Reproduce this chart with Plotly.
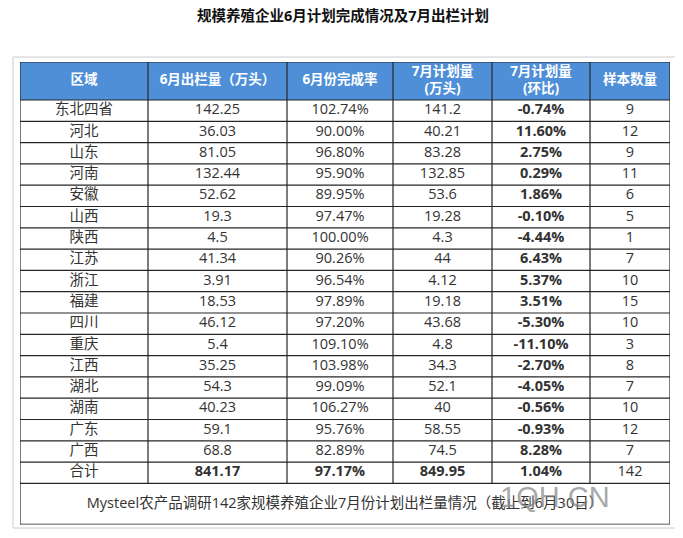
import plotly.graph_objects as go
from itertools import accumulate

TITLE = "规模养殖企业6月计划完成情况及7月出栏计划"
NOTE = "Mysteel农产品调研142家规模养殖企业7月份计划出栏量情况（截止到6月30日）"

headers = ["区域", "6月出栏量（万头）", "6月份完成率", "7月计划量<br>(万头)", "7月计划量<br>(环比)", "样本数量"]
regions = ["东北四省", "河北", "山东", "河南", "安徽", "山西", "陕西", "江苏", "浙江",
           "福建", "四川", "重庆", "江西", "湖北", "湖南", "广东", "广西", "合计"]
june_out = [142.25, 36.03, 81.05, 132.44, 52.62, 19.3, 4.5, 41.34, 3.91,
            18.53, 46.12, 5.4, 35.25, 54.3, 40.23, 59.1, 68.8, 841.17]
june_rate = [102.74, 90.00, 96.80, 95.90, 89.95, 97.47, 100.00, 90.26, 96.54,
             97.89, 97.20, 109.10, 103.98, 99.09, 106.27, 95.76, 82.89, 97.17]
july_plan = [141.2, 40.21, 83.28, 132.85, 53.6, 19.28, 4.3, 44, 4.12,
             19.18, 43.68, 4.8, 34.3, 52.1, 40, 58.55, 74.5, 849.95]
july_mom = [-0.74, 11.60, 2.75, 0.29, 1.86, -0.10, -4.44, 6.43, 5.37,
            3.51, -5.30, -11.10, -2.70, -4.05, -0.56, -0.93, 8.28, 1.04]
samples = [9, 12, 9, 11, 6, 5, 1, 7, 10, 15, 10, 3, 8, 7, 10, 12, 7, 142]

# page body has an 8px margin, so the figure is shrunk and shifted by that much
OFF = 8
W, H = 683 - OFF, 538 - OFF
def fx(px): return (px - OFF) / W
def fy(px): return 1 - (px - OFF) / H

FONT = "Open Sans, Noto Sans CJK SC, sans-serif"
LINE = "#262626"
TXT = "#333333"

col_w = [128, 139, 106, 99, 98, 80]
header_h, row_h, note_h = 38, 21.3, 41

n = len(regions)
last = n - 1
x_edges = [0] + list(accumulate(col_w))
y_edges = [0, header_h] + [header_h + row_h * (i + 1) for i in range(n)] + [header_h + row_h * n + note_h]
x_mid = [(a + b) / 2 for a, b in zip(x_edges[:-1], x_edges[1:])]
y_mid = [(a + b) / 2 for a, b in zip(y_edges[1:-2], y_edges[2:-1])]
total_w, total_h = x_edges[-1], y_edges[-1]

def bold_total(vals):
    return [f"<b>{v}</b>" if i == last else v for i, v in enumerate(vals)]

columns = [
    regions,
    bold_total([f"{v:g}" for v in june_out]),
    bold_total([f"{v:.2f}%" for v in june_rate]),
    bold_total([f"{v:g}" for v in july_plan]),
    [f"<b>{v:.2f}%</b>" for v in july_mom],
    [str(v) for v in samples],
]

fig = go.Figure()

# header fill
fig.add_trace(go.Heatmap(
    x=x_edges, y=[0, header_h], z=[[1] * len(col_w)],
    colorscale=[[0, "#4f8fd8"], [1, "#4f8fd8"]], showscale=False, hoverinfo="skip",
))

# grid lines
gx, gy = [], []
for y in y_edges:
    gx += [0, total_w, None]
    gy += [y, y, None]
for i, x in enumerate(x_edges):
    y_end = total_h if i in (0, len(x_edges) - 1) else y_edges[-2]
    gx += [x, x, None]
    gy += [0, y_end, None]
fig.add_trace(go.Scatter(x=gx, y=gy, mode="lines", line=dict(color=LINE, width=1.2),
                         hoverinfo="skip", showlegend=False))

# header text
fig.add_trace(go.Scatter(
    x=x_mid, y=[header_h / 2] * len(col_w), mode="text",
    text=[f"<b>{h}</b>" for h in headers],
    textfont=dict(family=FONT, size=13.5, color="white"),
    hoverinfo="skip", showlegend=False,
))

# body text
for xm, vals in zip(x_mid, columns):
    fig.add_trace(go.Scatter(
        x=[xm] * n, y=y_mid, mode="text", text=vals,
        textfont=dict(family=FONT, size=14.5, color=TXT),
        hoverinfo="skip", showlegend=False,
    ))

# note row
fig.add_trace(go.Scatter(
    x=[total_w / 2], y=[(y_edges[-2] + y_edges[-1]) / 2], mode="text", text=[NOTE],
    textfont=dict(family=FONT, size=14.5, color=TXT), hoverinfo="skip", showlegend=False,
))

fig.update_xaxes(domain=[fx(20), fx(670)], range=[0, total_w], visible=False, fixedrange=True)
fig.update_yaxes(domain=[fy(62 + total_h), fy(62)], range=[total_h, 0], visible=False, fixedrange=True)

fig.add_shape(type="rect", xref="paper", yref="paper",
              x0=fx(13), x1=fx(676), y0=fy(528), y1=fy(57),
              line=dict(color="#cccccc", width=1), layer="below")

fig.add_annotation(text=f"<b>{TITLE}</b>", x=fx(343), y=fy(16), xref="paper", yref="paper",
                   yanchor="middle", showarrow=False, font=dict(family=FONT, size=14.5, color="#111111"))

fig.add_annotation(text="1QH.CN", x=fx(612), y=fy(497), xref="paper", yref="paper",
                   yanchor="middle", showarrow=False,
                   font=dict(family="Arial, Liberation Sans", size=29, color="rgba(130,130,130,0.7)"))

fig.update_layout(width=W, height=H, margin=dict(l=0, r=0, t=0, b=0),
                  paper_bgcolor="white", plot_bgcolor="white", showlegend=False)

fig.write_html("out.html")
